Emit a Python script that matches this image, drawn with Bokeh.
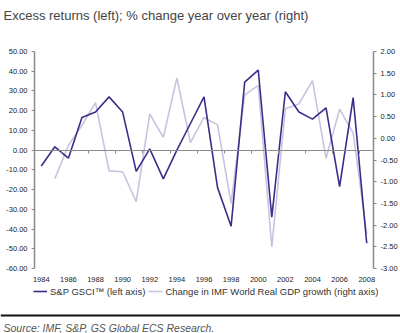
from bokeh.plotting import figure
from bokeh.models import (Range1d, LinearAxis, SingleIntervalTicker, FixedTicker,
                          NumeralTickFormatter, Span, Label, Legend, LegendItem)
from bokeh.embed import file_html
from bokeh.resources import INLINE

years = list(range(1984, 2009))
gsci = [-8.0, 1.7, -4.1, 16.5, 19.3, 27.0, 19.3, -10.8, 0.6, -14.6, 0.0, 13.5, 27.0,
        -19.0, -38.6, 34.5, 40.6, -34.0, 29.6, 19.3, 15.7, 21.4, -18.5, 26.6, -47.2]
gdp_years = list(range(1985, 2009))
gdp_change = [-0.93, -0.17, 0.30, 0.82, -0.75, -0.77, -1.46, 0.56, 0.02, 1.39, -0.10, 0.48,
              0.31, -1.50, 1.00, 1.22, -2.50, 0.68, 0.79, 1.33, -0.46, 0.67, 0.12, -2.2]
year_labels = [y for y in years if y % 2 == 0]

title_text = "Excess returns (left); % change year over year (right)"
source_text = "Source: IMF, S&P, GS Global ECS Research."
label_gsci = "S&P GSCI\u2122 (left axis)"
label_gdp = "Change in IMF World Real GDP growth (right axis)"

DARK = "#3b2d8a"
LIGHT = "#c9c3df"
AXIS = "#8a8a8a"
FONT = "Liberation Sans"

# ---- layout constants (pixels) ----
W, H = 400, 333
PL, PR, PT, PB = 34, 373, 51, 268      # plot rectangle inside the canvas
X0, X1 = years[0] - 0.5, years[-1] + 0.5
L0, L1 = -60, 50
R0, R1 = -3, 2

def span_range(v0, v1, p0, p1, total):
    k = (v1 - v0) / (p1 - p0)
    return v0 - p0 * k, v1 + (total - p1) * k

xs, xe = span_range(X0, X1, PL, PR, W)
ys, ye = span_range(L0, L1, H - PB, H - PT, H)
rs, re_ = span_range(R0, R1, H - PB, H - PT, H)

p = figure(width=W, height=H, output_backend="svg", toolbar_location=None,
           x_range=Range1d(xs, xe), y_range=Range1d(ys, ye),
           x_axis_type=None, y_axis_type=None, title=None,
           min_border_left=0, min_border_right=0, min_border_top=0, min_border_bottom=0)
p.outline_line_color = None
p.background_fill_color = "white"
p.border_fill_color = "white"
p.extra_y_ranges = {"right": Range1d(rs, re_)}


def style_axis(ax):
    ax.axis_line_color = AXIS
    ax.axis_line_width = 1.5
    ax.major_tick_line_color = AXIS
    ax.major_tick_out = 3
    ax.major_tick_in = 0
    ax.minor_tick_line_color = None
    ax.major_label_text_font = FONT
    ax.major_label_text_font_size = "7.5px"
    ax.major_label_text_color = "#222222"
    ax.major_label_standoff = 3


la = LinearAxis(fixed_location=X0, bounds=(L0, L1), ticker=SingleIntervalTicker(interval=10),
                formatter=NumeralTickFormatter(format="0.00"))
style_axis(la)
p.add_layout(la, "left")

ra = LinearAxis(fixed_location=X1, y_range_name="right", bounds=(R0, R1),
                ticker=SingleIntervalTicker(interval=0.5),
                formatter=NumeralTickFormatter(format="0.00"))
style_axis(ra)
p.add_layout(ra, "right")

# category axis crossing at zero (tick marks between every second pair of years)
tick_x = [y + 0.5 for y in years[:-1] if y % 2 == 1]
za = LinearAxis(fixed_location=0, bounds=(X0, X1), ticker=FixedTicker(ticks=tick_x),
                major_label_overrides={t: "" for t in tick_x})
style_axis(za)
za.axis_line_width = 1.2
p.add_layout(za, "below")

# year labels at the bottom of the plot
xa = LinearAxis(fixed_location=L0, bounds=(X0, X1), ticker=FixedTicker(ticks=year_labels))
style_axis(xa)
xa.axis_line_color = None
xa.major_tick_line_color = None
xa.major_label_standoff = 5
p.add_layout(xa, "below")

r_gdp = p.line(gdp_years, gdp_change, y_range_name="right", line_color=LIGHT, line_width=1.6)
r_gsci = p.line(years, gsci, line_color=DARK, line_width=1.6)

legend = Legend(items=[LegendItem(label=label_gsci, renderers=[r_gsci]),
                       LegendItem(label=label_gdp, renderers=[r_gdp])],
                location=(33, H - 297), orientation="horizontal",
                background_fill_alpha=0, border_line_color=None,
                padding=0, margin=0, spacing=3, glyph_width=14, glyph_height=12,
                label_height=12, label_standoff=3, label_text_font=FONT,
                label_text_font_size="9.5px", label_text_color="#333333")
p.add_layout(legend, "center")

p.add_layout(Label(x=3, y=H - 15, x_units="screen", y_units="screen", text=title_text,
                   text_font=FONT, text_font_size="13px", text_color="#444444",
                   text_baseline="alphabetic"))

# rule above the source note
rule_y = ys + (ye - ys) * (H - 315) / H
p.add_layout(Span(location=rule_y, dimension="width", line_color="#111111", line_width=2))
p.add_layout(Label(x=3, y=H - 327, x_units="screen", y_units="screen", text=source_text,
                   text_font=FONT, text_font_size="10.5px", text_font_style="italic",
                   text_color="#555555", text_baseline="alphabetic"))

open("out.html", "w").write(file_html(p, INLINE))
